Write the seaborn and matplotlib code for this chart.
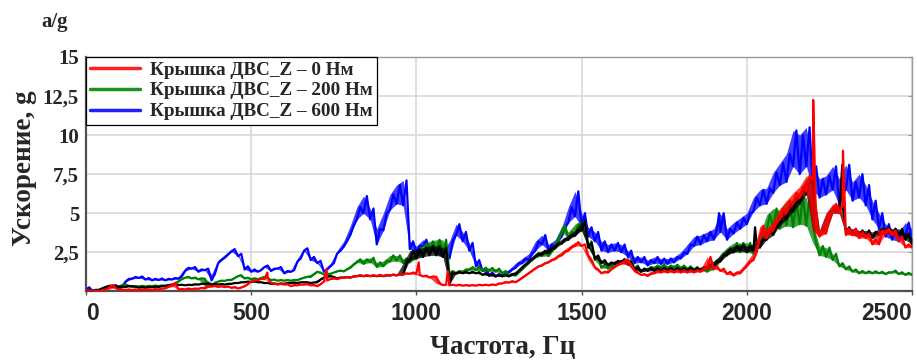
import numpy as np
import pandas as pd
import matplotlib
matplotlib.use("Agg")
import matplotlib.pyplot as plt
from matplotlib.lines import Line2D
import seaborn as sns

# Frequency grid: lower envelope sampled at 0, 20, ... Hz, upper envelope at 10, 30, ... Hz
freq_lo = np.arange(0, 2501, 20)
freq_hi = freq_lo + 10

series_labels = ["Крышка ДВС_Z – 0 Нм", "Крышка ДВС_Z – 200 Нм", "Крышка ДВС_Z – 600 Нм"]

# 600 Nm (blue)
blue_lo = [
    0.15, 0.02, 0.06, 0.15, 0.28, 0.15, 0.6, 0.8, 0.85, 0.75,
    0.7, 0.72, 0.7, 0.75, 0.8, 1.3, 1.45, 1.25, 1.35, 0.7,
    1.8, 2.15, 2.55, 2.25, 1.4, 1.25, 1.25, 1.55, 1.3, 1.45,
    1.15, 1.25, 1.9, 2.6, 2.0, 1.8, 1.25, 1.6, 2.4, 2.85,
    3.6, 4.6, 5.0, 4.6, 3.0, 3.9, 5.2, 5.6, 5.5, 2.7,
    2.5, 2.9, 2.6, 2.4, 2.2, 2.1, 3.6, 3.2, 2.6, 1.6,
    1.3, 1.0, 0.95, 1.0, 1.2, 1.5, 1.8, 2.0, 2.6, 3.0,
    2.6, 2.8, 3.5, 4.4, 4.8, 4.1, 3.5, 3.2, 2.6, 2.5,
    2.6, 2.5, 2.2, 1.8, 1.85, 1.65, 1.8, 1.75, 1.75, 1.85,
    2.1, 2.4, 2.9, 3.0, 3.2, 3.3, 3.8, 3.3, 3.7, 4.0,
    4.3, 5.1, 5.5, 5.6, 6.3, 6.8, 7.0, 8.0, 7.5, 8.0,
    6.5, 6.0, 6.2, 6.5, 5.5, 6.5, 5.8, 6.0, 5.5, 4.6,
    4.0, 3.5, 3.3, 3.2, 3.5, 3.3,
]
blue_hi = [
    0.25, 0.1, 0.14, 0.3, 0.4, 0.3, 0.8, 0.92, 0.95, 0.85,
    0.8, 0.82, 0.8, 0.85, 0.95, 1.5, 1.55, 1.4, 1.45, 1.1,
    2.0, 2.35, 2.7, 2.4, 1.6, 1.4, 1.35, 1.65, 1.45, 1.55,
    1.3, 1.35, 2.1, 2.75, 2.2, 1.95, 1.4, 1.8, 2.6, 3.2,
    4.2, 5.4, 6.1, 5.3, 4.0, 5.0, 6.2, 6.8, 7.1, 3.2,
    2.9, 3.3, 3.0, 2.8, 2.6, 3.2, 4.3, 3.8, 3.1, 2.0,
    1.5, 1.2, 1.1, 1.2, 1.4, 1.8, 2.1, 2.4, 3.2, 3.6,
    3.0, 3.3, 4.1, 5.4, 6.4, 5.0, 4.1, 3.8, 3.2, 3.0,
    3.1, 3.0, 2.6, 2.2, 2.2, 2.0, 2.2, 2.1, 2.1, 2.2,
    2.5, 3.0, 3.5, 3.6, 3.8, 4.0, 5.0, 4.0, 4.4, 4.7,
    5.0, 6.0, 6.5, 6.6, 7.6, 8.2, 8.8, 10.3, 10.0, 10.5,
    8.0, 7.2, 7.4, 8.0, 7.2, 8.1, 7.0, 7.5, 6.8, 5.8,
    5.0, 4.3, 4.0, 3.8, 4.4, 4.0,
]
blue_spike_f = [1916]
blue_spike_v = [5.0]

# 0 Nm (red)
red_lo = [
    0.02, 0.02, 0.03, 0.08, 0.4, 0.12, 0.08, 0.08, 0.08, 0.08,
    0.1, 0.12, 0.18, 0.33, 0.12, 0.12, 0.13, 0.16, 0.18, 0.3,
    0.28, 0.27, 0.22, 0.18, 0.32, 0.62, 0.72, 0.78, 0.55, 0.43,
    0.43, 0.33, 0.38, 0.43, 0.38, 0.33, 0.62, 0.78, 0.78, 0.87,
    0.88, 0.97, 0.97, 0.97, 0.97, 0.98, 1.0, 1.02, 1.07, 1.12,
    1.15, 0.95, 0.88, 0.93, 0.4, 0.38, 0.37, 0.36, 0.36, 0.36,
    0.38, 0.38, 0.4, 0.5, 0.55, 0.58, 0.85, 1.15, 1.45, 1.65,
    1.85, 2.05, 2.3, 2.6, 2.9, 2.9, 2.3, 1.55, 1.15, 1.2,
    1.55, 1.75, 2.05, 1.35, 1.05, 0.98, 1.15, 1.2, 1.2, 1.2,
    1.2, 1.2, 1.2, 1.25, 1.45, 1.45, 1.3, 1.1, 1.0, 1.15,
    1.6, 2.0, 3.5, 3.4, 3.9, 4.6, 5.0, 5.6, 6.0, 6.4,
    7.2, 3.5, 3.7, 5.0, 5.0, 3.6, 3.6, 3.4, 3.4, 3.0,
    3.0, 3.7, 3.6, 3.2, 2.8, 2.8,
]
red_hi = [
    0.05, 0.04, 0.08, 0.25, 0.2, 0.12, 0.12, 0.12, 0.12, 0.12,
    0.14, 0.18, 0.3, 0.55, 0.15, 0.18, 0.18, 0.22, 0.35, 0.35,
    0.33, 0.32, 0.28, 0.24, 0.45, 0.7, 0.8, 0.85, 0.5, 0.48,
    0.47, 0.4, 0.44, 0.47, 0.4, 0.45, 0.7, 0.83, 0.85, 0.92,
    0.95, 1.03, 1.03, 1.03, 1.05, 1.05, 1.08, 1.1, 1.15, 1.2,
    1.05, 1.0, 0.95, 0.5, 0.42, 0.42, 0.42, 0.4, 0.4, 0.42,
    0.42, 0.44, 0.5, 0.6, 0.65, 0.7, 1.0, 1.3, 1.6, 1.8,
    2.0, 2.25, 2.55, 2.85, 3.15, 3.0, 2.0, 1.4, 1.25, 1.4,
    1.7, 1.95, 1.7, 1.2, 1.1, 1.15, 1.3, 1.35, 1.35, 1.35,
    1.35, 1.35, 1.35, 1.4, 2.2, 1.6, 1.45, 1.25, 1.2, 1.4,
    1.9, 2.5, 4.2, 4.0, 4.5, 5.3, 5.8, 6.3, 6.7, 7.4,
    3.9, 3.9, 5.0, 5.6, 5.5, 4.0, 4.0, 3.8, 3.7, 3.3,
    3.9, 4.0, 3.9, 3.5, 3.0, 3.0,
]
red_spike_f = [549, 728, 1007, 1095, 2201, 2291]
red_spike_v = [1.2, 1.4, 1.85, 1.3, 12.25, 9.0]

# 200 Nm (green)
green_lo = [
    0.02, 0.02, 0.04, 0.18, 0.33, 0.3, 0.43, 0.28, 0.31, 0.31,
    0.33, 0.33, 0.36, 0.38, 0.62, 0.87, 0.82, 0.77, 0.8, 0.35,
    0.62, 0.67, 0.72, 0.97, 0.82, 0.77, 0.77, 0.92, 0.72, 0.68,
    0.68, 0.68, 0.72, 0.87, 0.92, 1.25, 1.07, 1.12, 1.27, 1.27,
    1.5, 1.85, 1.75, 1.85, 1.55, 1.6, 1.9, 1.95, 1.8, 1.85,
    2.1, 2.4, 2.6, 2.6, 2.5, 1.1, 1.1, 1.2, 1.35, 1.35,
    1.3, 1.3, 1.25, 1.15, 0.98, 1.0, 1.4, 1.8, 2.15, 2.25,
    2.25, 2.8, 3.8, 3.4, 3.7, 3.9, 2.8, 2.0, 1.5, 1.45,
    1.55, 1.85, 1.8, 1.45, 1.25, 1.35, 1.45, 1.5, 1.45, 1.5,
    1.45, 1.4, 1.35, 1.3, 1.25, 1.4, 2.0, 2.4, 2.5, 2.5,
    2.5, 2.4, 2.9, 3.9, 4.1, 4.0, 4.2, 4.1, 4.3, 4.2,
    4.3, 2.3, 2.2, 2.0, 1.6, 1.4, 1.25, 1.15, 1.15, 1.15,
    1.15, 1.1, 1.2, 1.1, 1.05, 1.05,
]
green_hi = [
    0.04, 0.04, 0.1, 0.3, 0.35, 0.4, 0.35, 0.32, 0.35, 0.35,
    0.37, 0.37, 0.4, 0.5, 0.78, 0.92, 0.88, 0.83, 0.3, 0.55,
    0.68, 0.73, 0.85, 1.03, 0.87, 0.83, 0.85, 0.85, 0.75, 0.72,
    0.72, 0.72, 0.8, 0.93, 1.1, 1.2, 1.12, 1.2, 1.33, 1.4,
    1.7, 2.05, 2.05, 2.15, 1.85, 1.95, 2.3, 2.3, 2.1, 2.15,
    2.5, 3.0, 3.2, 3.3, 3.3, 1.3, 1.3, 1.4, 1.55, 1.55,
    1.5, 1.5, 1.45, 1.3, 1.12, 1.2, 1.6, 2.0, 2.45, 2.55,
    2.55, 3.2, 4.2, 3.8, 4.3, 4.5, 3.2, 2.2, 1.7, 1.65,
    1.75, 2.05, 2.0, 1.65, 1.45, 1.55, 1.65, 1.7, 1.65, 1.7,
    1.65, 1.6, 1.55, 1.5, 1.5, 1.7, 2.4, 2.8, 3.1, 3.1,
    3.1, 3.0, 3.6, 4.9, 5.3, 5.2, 5.8, 5.7, 6.1, 6.0,
    3.1, 2.9, 2.8, 2.4, 1.8, 1.6, 1.4, 1.3, 1.28, 1.28,
    1.25, 1.22, 1.32, 1.22, 1.18, 1.15,
]
green_spike_f = []
green_spike_v = []

# additional trace (black, not in legend)
black_lo = [
    0.03, 0.03, 0.1, 0.28, 0.36, 0.28, 0.28, 0.33, 0.23, 0.23,
    0.26, 0.28, 0.33, 0.43, 0.4, 0.38, 0.4, 0.43, 0.48, 0.43,
    0.43, 0.43, 0.48, 0.53, 0.58, 0.6, 0.58, 0.53, 0.48, 0.46,
    0.48, 0.53, 0.53, 0.58, 0.53, 0.58, 0.88, 0.98, 0.83, 0.88,
    0.88, 0.97, 0.97, 0.97, 0.97, 0.97, 1.02, 1.02, 1.07, 2.0,
    2.1, 2.2, 2.3, 2.3, 2.2, 0.45, 1.15, 1.15, 1.15, 1.15,
    1.05, 1.0, 0.95, 0.95, 0.95, 1.1, 1.5, 1.85, 2.2, 2.35,
    2.45, 2.75, 3.05, 3.3, 3.55, 3.9, 2.8, 2.1, 1.8, 1.65,
    1.75, 1.85, 1.7, 1.35, 1.25, 1.3, 1.3, 1.3, 1.3, 1.3,
    1.3, 1.3, 1.3, 1.3, 1.45, 1.65, 1.9, 2.3, 2.5, 2.6,
    2.5, 2.6, 2.8, 3.3, 3.6, 4.2, 4.6, 5.1, 5.6, 6.2,
    7.0, 3.6, 3.8, 5.0, 5.0, 3.7, 3.6, 3.5, 3.5, 3.4,
    3.6, 3.7, 3.6, 3.6, 3.3, 3.0,
]
black_hi = [
    0.06, 0.07, 0.2, 0.35, 0.34, 0.3, 0.33, 0.3, 0.27, 0.27,
    0.3, 0.33, 0.4, 0.45, 0.42, 0.42, 0.45, 0.48, 0.5, 0.47,
    0.47, 0.48, 0.53, 0.58, 0.62, 0.63, 0.58, 0.53, 0.5, 0.5,
    0.53, 0.56, 0.58, 0.58, 0.56, 0.75, 0.95, 0.92, 0.88, 0.9,
    0.95, 1.0, 1.0, 1.0, 1.0, 1.02, 1.05, 1.08, 1.8, 2.6,
    2.7, 2.8, 2.9, 2.9, 2.8, 1.2, 1.25, 1.25, 1.25, 1.22,
    1.15, 1.1, 1.05, 1.05, 1.08, 1.3, 1.7, 2.05, 2.4, 2.6,
    2.75, 3.05, 3.35, 3.6, 3.9, 4.5, 3.1, 2.3, 2.0, 1.85,
    1.95, 2.05, 1.9, 1.55, 1.45, 1.5, 1.5, 1.5, 1.5, 1.5,
    1.5, 1.5, 1.5, 1.55, 1.7, 1.95, 2.3, 2.7, 2.9, 3.0,
    2.9, 3.0, 3.3, 3.9, 4.2, 5.0, 5.4, 5.9, 6.4, 7.2,
    3.9, 3.9, 5.0, 5.5, 5.5, 4.1, 4.0, 3.9, 3.9, 3.8,
    4.0, 4.1, 4.0, 4.0, 3.7, 3.4,
]
black_spike_f = [2025, 2289]
black_spike_v = [4.1, 8.1]

x_ticks = [0, 500, 1000, 1500, 2000, 2500]
y_ticks = [2.5, 5, 7.5, 10, 12.5, 15]
y_tick_labels = ["2,5", "5", "7,5", "10", "12,5", "15"]


def trace_frame(lo, hi, spike_f, spike_v):
    """Zig-zag trace through the lower and upper envelope readings."""
    return pd.DataFrame({
        "freq": np.concatenate([freq_lo, freq_hi, np.asarray(spike_f, float)]),
        "accel": np.concatenate([lo, hi, np.asarray(spike_v, float)]),
    })


def band_frame(lo, hi):
    """Envelope pairs grouped per 20 Hz bin, for the min-max band."""
    return pd.DataFrame({
        "freq": np.concatenate([freq_lo, freq_lo]),
        "accel": np.concatenate([lo, hi]),
    })


sns.set_style("whitegrid")
plt.rcParams["font.family"] = ["Liberation Serif", "DejaVu Serif"]

fig = plt.figure(figsize=(9.17, 3.63), dpi=100)
ax = fig.add_axes([86 / 917, 71.7 / 363, 826 / 917, 234.3 / 363])

traces = [
    (blue_lo, blue_hi, blue_spike_f, blue_spike_v, "#0000ff", 2),
    (green_lo, green_hi, green_spike_f, green_spike_v, "#008000", 3),
    (black_lo, black_hi, black_spike_f, black_spike_v, "#000000", 4),
    (red_lo, red_hi, red_spike_f, red_spike_v, "#ff0000", 5),
]
for lo, hi, sf, sv, col, z in traces:
    sns.lineplot(data=band_frame(lo, hi), x="freq", y="accel",
                 estimator="mean", errorbar=("pi", 100), color=col,
                 linewidth=0, legend=False, ax=ax,
                 err_kws={"alpha": 0.75, "linewidth": 0, "zorder": z})
    sns.lineplot(data=trace_frame(lo, hi, sf, sv), x="freq", y="accel",
                 estimator=None, sort=True, color=col, linewidth=1.6,
                 legend=False, ax=ax, zorder=z)

ax.set_xlim(0, 2500)
ax.set_ylim(0, 15)
ax.set_xticks(x_ticks)
ax.set_xticklabels([str(t) for t in x_ticks])
ax.set_yticks(y_ticks)
ax.set_yticklabels(y_tick_labels)
ax.set_xlabel("")
ax.set_ylabel("")

ax.grid(True, color="#d8d8d8", linewidth=1.2)
ax.set_axisbelow(True)
ax.set_facecolor("white")
for side in ["left", "bottom"]:
    ax.spines[side].set_color("#505050")
    ax.spines[side].set_linewidth(1.6)
for side in ["top", "right"]:
    ax.spines[side].set_color("#9a9a9a")
    ax.spines[side].set_linewidth(1.0)

ax.tick_params(axis="x", bottom=True, length=3, width=1, color="#505050",
               pad=5)
ax.tick_params(axis="y", left=False, right=True, direction="in", length=3,
               color="#9a9a9a", pad=5)
for lab in ax.get_xticklabels():
    lab.set_fontfamily(["Liberation Sans", "DejaVu Sans"])
    lab.set_fontweight("bold")
    lab.set_fontsize(16.5)
xl = ax.get_xticklabels()
xl[0].set_horizontalalignment("left")
xl[-1].set_horizontalalignment("right")
for lab in ax.get_yticklabels():
    lab.set_fontsize(15)
    lab.set_fontweight("bold")

handles = [Line2D([], [], color=c, linewidth=2.5) for c in ["#ff2020", "#209020", "#2020ff"]]
leg = ax.legend(handles, series_labels, loc="upper left", bbox_to_anchor=(0, 1),
                borderaxespad=0, frameon=True, fancybox=False,
                prop={"family": "Liberation Serif", "weight": "bold", "size": 13.8},
                handlelength=2.6, handletextpad=0.5, labelspacing=0.18,
                borderpad=0.22)
leg.get_frame().set_edgecolor("#000000")
leg.get_frame().set_linewidth(0.9)
leg.get_frame().set_facecolor("white")
leg.get_frame().set_alpha(1)
leg.set_zorder(10)

fig.text(0.060, 0.940, "a/g", ha="center", va="center", fontsize=15,
         fontweight="bold")
fig.text(0.027, 0.537, "Ускорение, g", ha="center", va="center", rotation=90,
         fontsize=19.5, fontweight="bold")
fig.text(0.548, 0.042, "Частота, Гц", ha="center", va="center", fontsize=19.5,
         fontweight="bold")

fig.savefig("out.png", dpi=100, facecolor="white")
